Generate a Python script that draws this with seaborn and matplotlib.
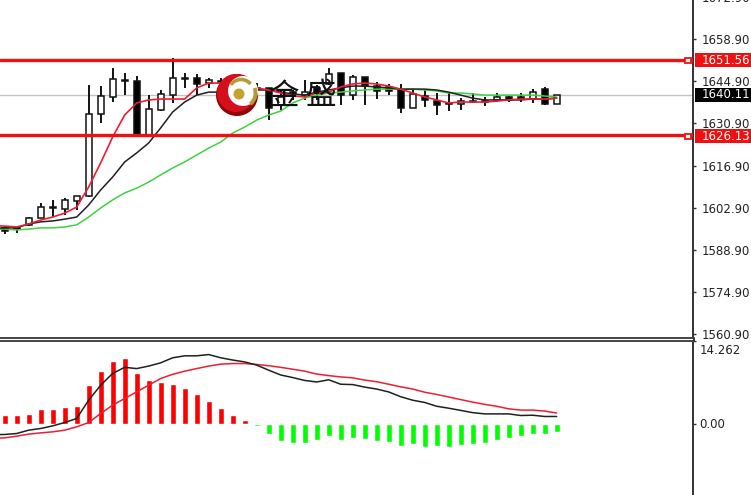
import numpy as np
import matplotlib
matplotlib.use("Agg")
import matplotlib.pyplot as plt
from matplotlib.patches import Circle, Arc, Rectangle
from matplotlib.transforms import ScaledTranslation
import seaborn as sns

# candles
opens = [1596.2,1596.2,1597.2,1599.5,1603.1,1602.5,1605.1,1606.8,1634.0,1639.7,1645.3,1645.0,1626.7,1635.4,1640.3,1646.0,
         1646.0,1644.3,1645.0,1642.0,1644.0,1642.7,1642.7,1637.0,1641.3,1640.3,1642.7,1644.0,1647.6,1640.3,1646.3,1643.3,
         1643.0,1642.0,1636.0,1640.0,1638.3,1637.7,1637.4,1638.3,1638.0,1638.7,1639.7,1639.7,1639.0,1642.3,1637.4]
highs = [1596.8,1596.5,1599.8,1604.5,1605.5,1606.1,1606.8,1643.7,1643.3,1649.3,1647.6,1646.6,1640.3,1642.0,1652.6,1647.6,
         1647.3,1646.0,1646.0,1644.0,1644.7,1644.3,1642.7,1642.0,1642.0,1645.3,1643.7,1649.3,1647.6,1647.0,1646.3,1644.7,
         1644.0,1644.0,1642.0,1642.0,1641.0,1641.0,1639.3,1641.0,1639.7,1641.0,1640.0,1641.0,1642.3,1643.0,1640.3]
lows = [1594.2,1594.5,1596.8,1599.5,1599.8,1600.5,1602.1,1606.5,1631.0,1638.0,1640.3,1626.4,1626.4,1635.0,1637.7,1642.7,
        1640.3,1642.7,1642.0,1641.3,1642.0,1640.3,1632.0,1635.4,1638.7,1638.7,1638.7,1643.7,1637.0,1638.7,1637.0,1639.0,
        1640.3,1634.4,1636.0,1636.4,1633.7,1635.0,1635.4,1637.7,1636.7,1638.0,1638.0,1638.0,1637.7,1637.0,1637.4]
closes = [1595.2,1595.8,1599.5,1603.1,1602.8,1605.5,1606.8,1634.0,1640.0,1645.7,1645.0,1626.7,1635.7,1640.7,1646.0,1645.7,
          1644.0,1645.3,1644.7,1643.0,1643.7,1642.3,1636.0,1639.7,1640.7,1641.3,1641.0,1647.3,1640.3,1646.3,1643.3,1641.7,
          1641.7,1636.0,1640.7,1638.7,1637.0,1637.4,1638.3,1638.0,1638.3,1639.7,1638.7,1639.0,1641.3,1637.4,1640.3]

# moving averages, first value is the bar cut off at the left edge
ma_fast = [1596.9,1596.8,1596.5,1597.5,1598.8,1599.8,1601.1,1603.1,1609.8,1617.8,1626.4,1633.7,1637.7,1638.7,1639.0,1639.0,1639.0,
           1642.7,1644.3,1644.3,1643.7,1643.0,1642.7,1642.0,1641.0,1640.0,1639.7,1641.0,1641.3,
           1643.0,1644.0,1644.3,1644.0,1643.3,1642.3,1641.0,1639.7,1638.7,1637.7,1638.0,1638.0,1638.0,1638.3,1638.7,1639.0,1639.0,1639.0,1639.3]
ma_mid = [1596.0,1596.2,1596.2,1597.5,1598.2,1598.5,1599.1,1599.8,1603.8,1608.8,1613.1,1618.1,1621.1,1624.4,1629.4,1634.7,1638.0,
          1640.3,1641.3,1641.3,1642.0,1642.0,1642.0,1642.0,1641.3,1640.7,1640.3,1641.3,1642.0,
          1642.7,1643.3,1643.3,1643.0,1642.7,1642.3,1642.3,1642.3,1642.0,1641.3,1640.3,1639.3,1638.7,1638.7,1638.7,1638.7,1639.0,1639.0,1639.3]
ma_slow = [1595.8,1595.8,1595.5,1595.8,1596.2,1596.2,1596.5,1597.2,1599.8,1602.8,1605.5,1607.8,1609.4,1611.4,1613.8,1616.1,1618.1,
           1620.4,1622.7,1624.7,1627.7,1629.7,1632.0,1633.7,1635.0,1637.7,1639.3,1640.3,1641.0,
           1641.3,1641.7,1642.0,1642.3,1642.3,1642.3,1642.3,1642.0,1641.7,1641.0,1641.0,1640.7,1640.3,1640.3,1640.3,1640.3,1640.3,1640.0,1639.7]

# macd panel
macd_hist = [1.55,1.55,1.72,2.44,2.44,2.89,3.05,6.66,9.10,10.82,11.32,8.71,7.55,7.16,6.83,6.22,5.05,4.00,2.61,1.55,0.64,-0.41,-1.91,-3.07,
             -3.31,-3.31,-2.90,-2.20,-2.90,-2.44,-2.67,-2.96,-3.19,-3.94,-3.65,-4.06,-3.94,-4.06,-3.77,-3.54,-3.31,-2.90,-2.44,-2.20,-1.74,-1.80,-1.51]
macd_line = [-1.94,-1.91,-1.74,-1.16,-0.87,-0.41,0.17,0.87,4.06,6.66,8.71,9.77,9.55,9.99,10.55,11.43,11.77,11.77,11.99,11.43,11.04,10.71,10.16,9.27,
             8.44,7.99,7.49,7.22,7.60,6.83,6.77,6.33,5.99,5.49,4.66,4.05,3.66,3.00,2.66,2.28,1.89,1.67,1.67,1.67,1.39,1.44,1.22,1.22]
signal_line = [-2.61,-2.49,-2.20,-1.85,-1.63,-1.45,-1.16,-0.58,0.17,1.74,3.19,4.35,5.51,6.66,7.83,8.55,9.10,9.55,9.99,10.32,10.43,10.43,10.27,10.05,
               9.77,9.44,9.10,8.60,8.33,8.10,7.94,7.55,7.27,6.83,6.38,5.99,5.44,5.05,4.61,4.16,3.72,3.33,3.00,2.55,2.33,2.33,2.16,1.83]

price_ticks = [1560.90,1574.90,1588.90,1602.90,1616.90,1630.90,1644.90,1658.90,1672.90]
macd_ticks = [0.00, 14.262]
macd_tick_labels = ["0.00", "14.262"]
level_prices = [1651.9, 1626.9]
level_labels = ["1651.56", "1626.13"]
last_price = 1640.3
last_label = "1640.11"

W, H = 751, 495
idx = np.arange(len(opens))
line_idx = np.arange(-1, len(opens))

sns.set_style("white")
plt.rcParams["font.family"] = ["DejaVu Sans"]

fig = plt.figure(figsize=(W / 100, H / 100), dpi=100)
ax = fig.add_axes([0, (H - 338) / H, 693 / W, 344 / H])
ax2 = fig.add_axes([0, 0, 693 / W, (H - 341) / H])

# price panel
ax.axhline(last_price, color="#c4c4c4", lw=1, zorder=1)
ax.vlines(idx, lows, highs, color="#111111", lw=1.4, zorder=2)
body_col = ["white" if c >= o else "black" for o, c in zip(opens, closes)]
heights = np.array(closes) - np.array(opens)
ax.bar(idx, heights, bottom=opens, width=0.5, color=body_col, edgecolor="#111111", linewidth=1.1, zorder=3)

sns.lineplot(x=line_idx, y=ma_slow, ax=ax, color="#3fd23f", lw=1.1, estimator=None, zorder=4)
sns.lineplot(x=line_idx, y=ma_mid, ax=ax, color="#202020", lw=1.1, estimator=None, zorder=5)
sns.lineplot(x=line_idx, y=ma_fast, ax=ax, color="#f01c30", lw=1.2, estimator=None, zorder=6)

for p in level_prices:
    ax.axhline(p, color="#ee1111", lw=2.4, zorder=7)

ax.set_xlim(-0.39, 57.36)
ax.set_ylim(1671.9 - 338 * 0.3322, 1671.9 + 6 * 0.3322)
ax.set_yticks(price_ticks)
ax.set_yticklabels([f"{t:.2f}" for t in price_ticks])
ax.yaxis.tick_right()
ax.set_xticks([])
ax.tick_params(axis="y", length=2.5, width=1, color="#333333", pad=4, labelsize=8.5, labelcolor="#222222", right=True)

# macd panel
hist_sign = ["up" if v >= 0 else "down" for v in macd_hist]
sns.barplot(x=idx, y=macd_hist, hue=hist_sign, palette={"up": "#ff0000", "down": "#00ff00"}, native_scale=True,
            dodge=False, width=0.5, saturation=1, legend=False, ax=ax2, zorder=2)
sns.lineplot(x=line_idx, y=signal_line, ax=ax2, color="#f01c30", lw=1.1, estimator=None, zorder=3)
sns.lineplot(x=line_idx, y=macd_line, ax=ax2, color="#202020", lw=1.1, estimator=None, zorder=4)
ax2.set_xlim(-0.39, 57.36)
ax2.set_ylim(-71.5 / 5.75, 82.5 / 5.75)
ax2.set_yticks(macd_ticks)
ax2.set_yticklabels(macd_tick_labels)
ax2.yaxis.tick_right()
ax2.set_xticks([])
ax2.set_xlabel("")
ax2.tick_params(axis="y", length=2.5, width=1, color="#333333", pad=2, labelsize=8.5, labelcolor="#222222", right=True)
top_lab = ax2.get_yticklabels()[1]
top_lab.set_va("top")
top_lab.set_transform(top_lab.get_transform() + ScaledTranslation(0, -3 / 100, fig.dpi_scale_trans))

for a in (ax, ax2):
    a.patch.set_alpha(0)
    for s in a.spines.values():
        s.set_visible(False)
    a.spines["right"].set_visible(True)
    a.spines["right"].set_color("#333333")
    a.spines["right"].set_linewidth(1.4)
ax.spines["bottom"].set_visible(True)
ax.spines["bottom"].set_color("#444444")
ax.spines["bottom"].set_linewidth(1.4)
ax2.spines["top"].set_visible(True)
ax2.spines["top"].set_color("#444444")
ax2.spines["top"].set_linewidth(1.4)
fig.add_artist(plt.Line2D([693.5 / W, 693.5 / W], [(H - 341) / H, (H - 338) / H], color="#333333", lw=1.4))

# overlay in pixel coordinates: price boxes, logo, watermark
ov = fig.add_axes([0, 0, 1, 1], zorder=10)
ov.set_xlim(0, W)
ov.set_ylim(H, 0)
ov.axis("off")

for p_lab, y0, col in [(level_labels[0], 53, "#ee1111"), (last_label, 88, "black"), (level_labels[1], 129, "#ee1111")]:
    ov.add_patch(Rectangle((695, y0), 56, 14, color=col, lw=0))
    ov.text(702, y0 + 7, p_lab, color="white", fontsize=8.5, va="center", ha="left", clip_on=True)
for ym in (60, 136.5):
    ov.add_patch(Rectangle((684.5, ym - 2.5), 6, 5, facecolor="white", edgecolor="#ee1111", lw=1.3))

ov.add_patch(Circle((237, 95), 21, color="#8e060c", lw=0))
ov.add_patch(Circle((236, 93), 19, color="#d5101c", lw=0))
ov.add_patch(Circle((243, 91), 15, color="white", lw=0))
ov.add_patch(Arc((241, 92), 25, 25, theta1=215, theta2=320, color="#b79a35", lw=2.6))
ov.add_patch(Arc((241, 93), 29, 29, theta1=-20, theta2=50, color="#b79a35", lw=2.8))
ov.add_patch(Circle((239, 94), 5.5, color="#c4a22e", lw=0))

cjk = ["Noto Sans CJK SC", "DejaVu Sans"]
ov.text(283, 96.5, "金", family=cjk, fontsize=22, color="#111111", ha="center", va="center", fontweight="light")
ov.text(321, 95, "盛", family=cjk, fontsize=22, color="#111111", ha="center", va="center", fontweight="light")

fig.savefig("out.png", dpi=100, facecolor="white")
